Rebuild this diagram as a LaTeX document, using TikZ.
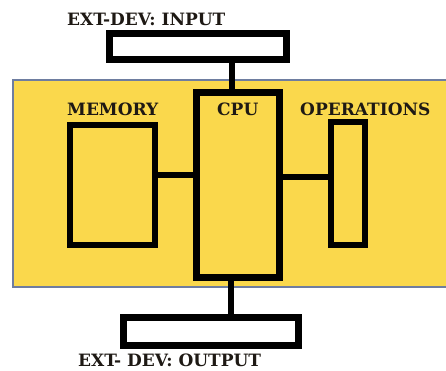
\documentclass[tikz,border=0pt]{standalone}
\usepackage{fontspec}
\setmainfont{DejaVu Serif}
\definecolor{bgyellow}{RGB}{250,216,76}
\definecolor{frameblue}{RGB}{110,125,160}
\definecolor{txt}{RGB}{30,25,20}
\begin{document}
\begin{tikzpicture}[x=1pt,y=-1pt,
  box/.style={draw=black,line width=#1,fill=none,inner sep=0pt,rectangle},
  box/.default=7pt,
  wire/.style={draw=black,line width=5.5pt},
  lbl/.style={inner sep=0pt,anchor=base west,text=txt,font=\bfseries\fontsize{17}{18}\selectfont}
]
\useasboundingbox (0,0) rectangle (446,370);
\fill[white] (0,0) rectangle (446,370);
\path[fill=bgyellow,draw=frameblue,line width=1.5pt] (13,80) rectangle (450,287);

\node[box=7pt,minimum width=177pt,minimum height=26pt] (inp) at (198,46.5) {};
\node[box=7pt,minimum width=83pt,minimum height=185pt] (cpu) at (238,185) {};
\node[box=6pt,minimum width=85pt,minimum height=120pt] (mem) at (112.5,185) {};
\node[box=6pt,minimum width=34pt,minimum height=123pt] (ops) at (348,183.5) {};
\node[box=7pt,minimum width=175pt,minimum height=28pt] (out) at (211,331.5) {};

\coordinate (xin) at (232,0);
\coordinate (xout) at (231,0);
\coordinate (ymem) at (0,175);
\coordinate (yops) at (0,177);

\draw[wire] (xin |- inp.south) -- (xin |- cpu.north);
\draw[wire] (xout |- cpu.south) -- (xout |- out.north);
\draw[wire] (mem.east |- ymem) -- (cpu.west |- ymem);
\draw[wire] (cpu.east |- yops) -- (ops.west |- yops);

\node[lbl] (tin) at (67,25) {EXT-DEV: INPUT};
\node[lbl] (tmem) at (67,115) {MEMORY};
\node[lbl] (tcpu) at (217,115) {CPU};
\node[lbl] (tops) at (300,115) {OPERATIONS};
\node[lbl] (tout) at (78,366) {EXT- DEV: OUTPUT};
\end{tikzpicture}
\end{document}
